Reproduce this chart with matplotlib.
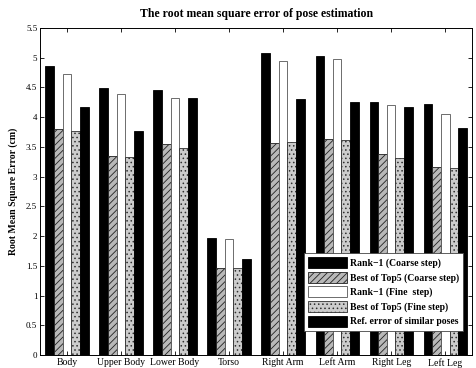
import matplotlib
matplotlib.use("Agg")
import matplotlib.pyplot as plt
import numpy as np

plt.rcParams['font.family'] = ['Liberation Serif', 'DejaVu Serif']
plt.rcParams['hatch.linewidth'] = 0.6

categories = ["Body", "Upper Body", "Lower Body", "Torso", "Right Arm", "Left Arm", "Right Leg", "Left Leg"]
series_names = ["Rank\u22121 (Coarse step)", "Best of Top5 (Coarse step)", "Rank\u22121 (Fine  step)",
                "Best of Top5 (Fine step)", "Ref. error of similar poses"]
rank1_coarse = [4.86, 4.49, 4.45, 1.97, 5.08, 5.03, 4.26, 4.23]
top5_coarse = [3.80, 3.34, 3.55, 1.46, 3.56, 3.63, 3.38, 3.17]
rank1_fine = [4.72, 4.39, 4.33, 1.95, 4.94, 4.98, 4.20, 4.06]
top5_fine = [3.77, 3.33, 3.49, 1.46, 3.58, 3.61, 3.31, 3.14]
ref_error = [4.17, 3.76, 4.33, 1.61, 4.30, 4.26, 4.17, 3.81]
yticks = [0, 0.5, 1, 1.5, 2, 2.5, 3, 3.5, 4, 4.5, 5, 5.5]
ytick_labels = ["0", "0.5", "1", "1.5", "2", "2.5", "3", "3.5", "4", "4.5", "5", "5.5"]

series = [rank1_coarse, top5_coarse, rank1_fine, top5_fine, ref_error]
styles = [
    dict(facecolor="black", edgecolor="black", hatch=None),
    dict(facecolor="#b8b8b8", edgecolor="#202020", hatch="/////"),
    dict(facecolor="white", edgecolor="#555555", hatch=None),
    dict(facecolor="#cccccc", edgecolor="#303030", hatch="...."),
    dict(facecolor="black", edgecolor="black", hatch=None),
]

fig = plt.figure(figsize=(4.76, 3.68), dpi=100)
ax = fig.add_axes([0.084, 0.035, 0.908, 0.889])

x = np.arange(1, len(categories) + 1)
w = 0.16
for i, (vals, st) in enumerate(zip(series, styles)):
    ax.bar(x + (i - 2) * w, vals, width=w, facecolor=st["facecolor"], edgecolor=st["edgecolor"],
           hatch=st["hatch"], linewidth=0.6, label=series_names[i])

ax.set_xlim(0.5, 8.5)
ax.set_ylim(0, 5.5)
ax.set_xticks(x)
ax.set_xticklabels(categories, fontsize=7)
ax.set_yticks(yticks)
ax.set_yticklabels(ytick_labels, fontsize=6.5)
ax.tick_params(direction="in", length=3, width=0.6, top=True, right=True, pad=2)
for s in ax.spines.values():
    s.set_linewidth(0.7)
ax.set_ylabel("Root Mean Square Error (cm)", fontsize=7, fontweight="bold", labelpad=6)
ax.set_title("The root mean square error of pose estimation", fontsize=8.5, fontweight="bold", pad=8)

leg = ax.legend(loc="lower right", bbox_to_anchor=(0.99, 0.06), prop={'weight': 'bold', 'size': 7},
                frameon=True, fancybox=False, edgecolor="#444444", handlelength=4.0, handleheight=1.4,
                borderpad=0.4, labelspacing=0.35, handletextpad=0.3, framealpha=1)
leg.get_frame().set_linewidth(0.6)

fig.savefig("out.png", dpi=100)
